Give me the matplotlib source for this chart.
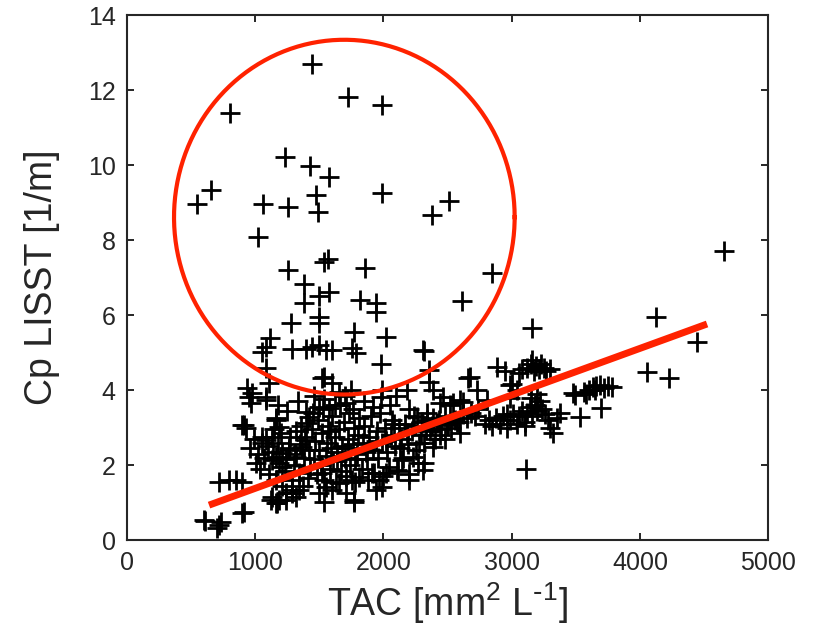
import numpy as np
import matplotlib
matplotlib.use("Agg")
import matplotlib.pyplot as plt

# points inside the circled group (high Cp)
tac_high = [1445, 1727, 1992, 805, 1234, 1430, 1578, 656, 547, 1062, 1258, 1477, 1492, 1992,
            2508, 2375, 1023, 1539, 1570, 1859, 1258, 2844, 1383, 1578, 1500, 1820, 2609, 1383,
            1945, 4656]
cp_high = [12.69, 11.81, 11.60, 11.39, 10.21, 9.97, 9.68, 9.33, 8.96, 8.96, 8.88, 9.20, 8.75, 9.25,
           9.04, 8.67, 8.08, 7.41, 7.49, 7.25, 7.20, 7.12, 6.83, 6.61, 6.50, 6.40, 6.37, 6.32,
           6.32, 7.71]

# mid range points
tac_mid = [1945, 1500, 1281, 1500, 1773, 2023, 1117, 1086, 1055, 1289, 1398, 1445, 1500, 1555,
           1601, 1758, 1789, 2313, 1984, 1086, 2656, 1523, 1601, 1109, 938, 977, 1086, 969,
           1656, 1992, 2180, 2359, 2438, 2516, 2594, 1398, 1500, 1578, 1711, 898, 930, 1164,
           1187, 1422, 1406, 953, 1086, 914, 1164, 1539, 1750, 1984, 2305, 2359, 2383, 2672,
           2727, 2883, 2984, 2461, 2539, 2617, 2805]
cp_mid = [6.08, 5.95, 5.79, 5.79, 5.55, 5.41, 5.39, 5.15, 5.01, 5.09, 5.09, 5.15, 5.20, 5.07,
          5.07, 5.12, 4.99, 5.04, 4.69, 4.59, 4.32, 4.32, 4.19, 4.19, 4.05, 3.92, 3.81, 3.65,
          3.95, 4.00, 4.00, 4.21, 3.65, 3.60, 3.73, 3.41, 3.55, 3.52, 3.65, 3.07, 2.99, 3.20,
          3.01, 3.28, 3.12, 3.81, 3.73, 3.07, 3.25, 4.35, 4.00, 3.81, 5.07, 4.53, 4.00, 4.35,
          4.00, 4.61, 4.13, 3.81, 3.65, 3.68, 3.73]

# low TAC / low Cp points
tac_low = [609, 719, 703, 914, 719, 797, 852, 898, 1008, 1055, 1086, 1133, 1164, 1187, 1211,
           1133, 1164, 1187, 1242, 1289, 1344, 1500, 1555, 1601, 1656, 1711, 1773, 898, 602,
           734, 1125, 1172, 1242, 1320, 1289, 1133, 1211, 1266, 1320, 1367, 1398, 1539, 1773,
           1945, 2203, 1758, 1813, 1914, 1969, 1992, 2023, 2102, 2148, 2227, 2305, 2383, 2320]
cp_low = [0.51, 0.40, 0.32, 0.75, 1.55, 1.60, 1.60, 1.55, 2.05, 2.59, 2.67, 2.75, 2.21, 2.05, 1.95,
          1.15, 0.99, 1.07, 1.25, 1.25, 1.33, 1.25, 1.41, 1.33, 1.52, 1.25, 1.07, 0.72, 0.53,
          0.48, 1.07, 0.99, 1.07, 1.15, 1.33, 2.13, 2.32, 2.40, 2.21, 2.48, 2.67, 1.01, 1.01,
          1.33, 1.60, 1.60, 1.68, 1.79, 1.60, 1.41, 1.79, 1.87, 2.13, 2.21, 1.87, 2.48, 2.05]

# dense central cloud
tac_core = [960, 990, 1020, 1040, 1070, 1100, 1110, 1140, 1160, 1180, 1200, 1210, 1230, 1240,
            1260, 1270, 1290, 1300, 1310, 1320, 1340, 1350, 1360, 1370, 1380, 1390, 1410, 1420,
            1430, 1440, 1450, 1460, 1470, 1480, 1490, 1500, 1510, 1520, 1530, 1540, 1550, 1560,
            1570, 1580, 1590, 1600, 1610, 1620, 1630, 1640, 1650, 1660, 1670, 1680, 1690, 1700,
            1710, 1720, 1730, 1740, 1760, 1770, 1780, 1790, 1800, 1810, 1830, 1840, 1850, 1870,
            1880, 1890, 1900, 1920, 1930, 1950, 1960, 1970, 1990, 2000, 2010, 2030, 2040, 2060,
            2070, 2090, 2110, 2120, 2140, 2150, 2170, 2190, 2200, 2220, 2240, 2250, 2270, 2290,
            2300, 2320, 2340, 2360, 2380, 2400, 2430, 2450, 2480, 2500, 2530, 2560, 2590, 2620,
            2650, 2680, 2710, 2740, 2480, 2600, 1180, 1250, 1330, 1460, 1540, 1620, 1700, 1760,
            1850, 1920, 2050, 2100, 2200, 2258, 2336, 2414, 2492, 2570,
            2020, 2080, 2130, 2180, 2230, 2280, 2330, 2390, 2440, 1520, 1580, 1640, 1720, 1780,
            1860, 1940, 1050, 1150]
cp_core = [2.45, 2.70, 2.30, 1.90, 2.20, 2.50, 1.75, 2.35, 1.60, 2.60, 2.85, 1.45, 1.85, 2.15,
           2.45, 2.75, 1.60, 2.00, 2.30, 2.90, 1.80, 2.55, 3.05, 1.45, 2.20, 2.75, 1.65, 2.40,
           1.95, 2.95, 3.40, 2.15, 2.65, 1.75, 3.20, 2.40, 2.00, 2.85, 3.50, 1.60, 2.25, 2.60,
           3.05, 1.90, 2.45, 3.30, 2.10, 2.75, 1.55, 2.35, 2.95, 3.60, 1.85, 2.50, 3.15, 2.20,
           1.70, 2.70, 3.40, 2.00, 2.55, 3.00, 1.55, 2.30, 2.80, 3.25, 1.90, 2.60, 3.05, 2.15,
           1.60, 2.75, 3.30, 2.40, 1.80, 2.90, 2.20, 3.40, 2.60, 1.70, 3.00, 2.35, 1.95, 2.80,
           3.20, 2.50, 1.85, 3.00, 2.70, 2.20, 3.10, 2.55, 1.75, 2.90, 3.30, 2.40, 2.05, 2.80,
           3.15, 2.60, 3.40, 2.90, 3.05, 2.70, 3.20, 2.95, 3.30, 3.10, 3.00, 3.20, 3.15, 3.35,
           3.25, 3.40, 3.30, 3.50, 2.70, 2.85, 3.60, 3.45, 3.70, 3.85, 3.75, 3.60, 3.85, 3.50,
           3.70, 3.55, 3.60, 3.85, 3.50, 3.28, 3.20, 3.12, 3.07, 3.15,
           2.65, 3.10, 2.45, 2.85, 3.05, 2.60, 2.95, 3.25, 2.80, 1.80, 2.90, 2.10, 2.45, 2.15,
           2.35, 2.65, 2.75, 2.95]

# high TAC group
tac_right = [2790, 2820, 2850, 2880, 2910, 2930, 2960, 2990, 3010, 3040, 3060, 3080, 3100, 3120,
             3140, 3160, 3180, 3200, 3220, 3240, 3260, 3280, 3300, 3320, 3350, 3380, 3150, 3200,
             3100, 2960, 3080, 3120, 3150, 3170, 3190, 3210, 3230, 3250, 3270, 3300, 3160, 3060,
             2950, 3040, 3000, 2990, 3490, 3560, 3600, 3630, 3660, 3690, 3720, 3750, 3780, 3700,
             3580, 3650, 4125, 4445, 4055, 4227, 3156, 3109, 3531, 3477]
cp_right = [3.10, 3.20, 3.05, 3.25, 3.10, 3.30, 3.00, 3.20, 3.35, 3.10, 3.30, 3.45, 3.15, 3.40,
            3.55, 3.30, 3.60, 3.45, 3.70, 3.50, 3.35, 3.20, 3.00, 2.85, 3.25, 3.40, 3.80, 3.90,
            3.05, 3.35, 4.55, 4.60, 4.70, 4.50, 4.65, 4.55, 4.70, 4.60, 4.50, 4.55, 4.80, 4.45,
            4.50, 4.00, 4.15, 3.80, 3.87, 3.95, 4.00, 4.08, 4.10, 4.13, 4.05, 4.10, 4.08, 3.52,
            3.90, 4.00, 5.95, 5.28, 4.48, 4.32, 5.65, 1.89, 3.28, 3.92]

tac = tac_high + tac_mid + tac_low + tac_core + tac_right
cp = cp_high + cp_mid + cp_low + cp_core + cp_right

# linear fit drawn over the data range
fit_x = np.array([640, 4523])
fit_slope = 0.001244
fit_intercept = 0.134

# ellipse around the outliers (centre and half axes in data units)
ell_cx, ell_cy = 1695, 8.61
ell_rx, ell_ry = 1328, 4.73

plt.rcParams['font.family'] = ['Liberation Sans', 'DejaVu Sans']
plt.rcParams['mathtext.default'] = 'regular'

fig = plt.figure(figsize=(8.19, 6.31), dpi=100)
ax = fig.add_axes([0.155, 0.1442, 0.783, 0.832])

ax.plot(tac, cp, '+', color='k', markersize=15, markeredgewidth=2.0)

t = np.linspace(0, 2 * np.pi, 300)
ax.plot(ell_cx + ell_rx * np.cos(t), ell_cy + ell_ry * np.sin(t), color='#ff2200', linewidth=3.0)
ax.plot(fit_x, fit_intercept + fit_slope * fit_x, color='#ff2200', linewidth=5, solid_capstyle='butt')

ax.set_xlim(0, 5000)
ax.set_ylim(0, 14)
ax.set_xticks([0, 1000, 2000, 3000, 4000, 5000])
ax.set_yticks([0, 2, 4, 6, 8, 10, 12, 14])

ax.tick_params(direction='in', length=5, width=1.4, color='#262626', labelsize=18,
               labelcolor='#262626', top=True, right=True, pad=8)
for s in ax.spines.values():
    s.set_linewidth(1.5)
    s.set_color('#262626')

ax.set_xlabel('TAC [mm$^{2}$ L$^{\\text{-}1}$]', fontsize=27, color='#262626', labelpad=4)
ax.set_ylabel('Cp LISST [1/m]', fontsize=27, color='#262626', labelpad=20)

fig.savefig('out.png', dpi=100)
